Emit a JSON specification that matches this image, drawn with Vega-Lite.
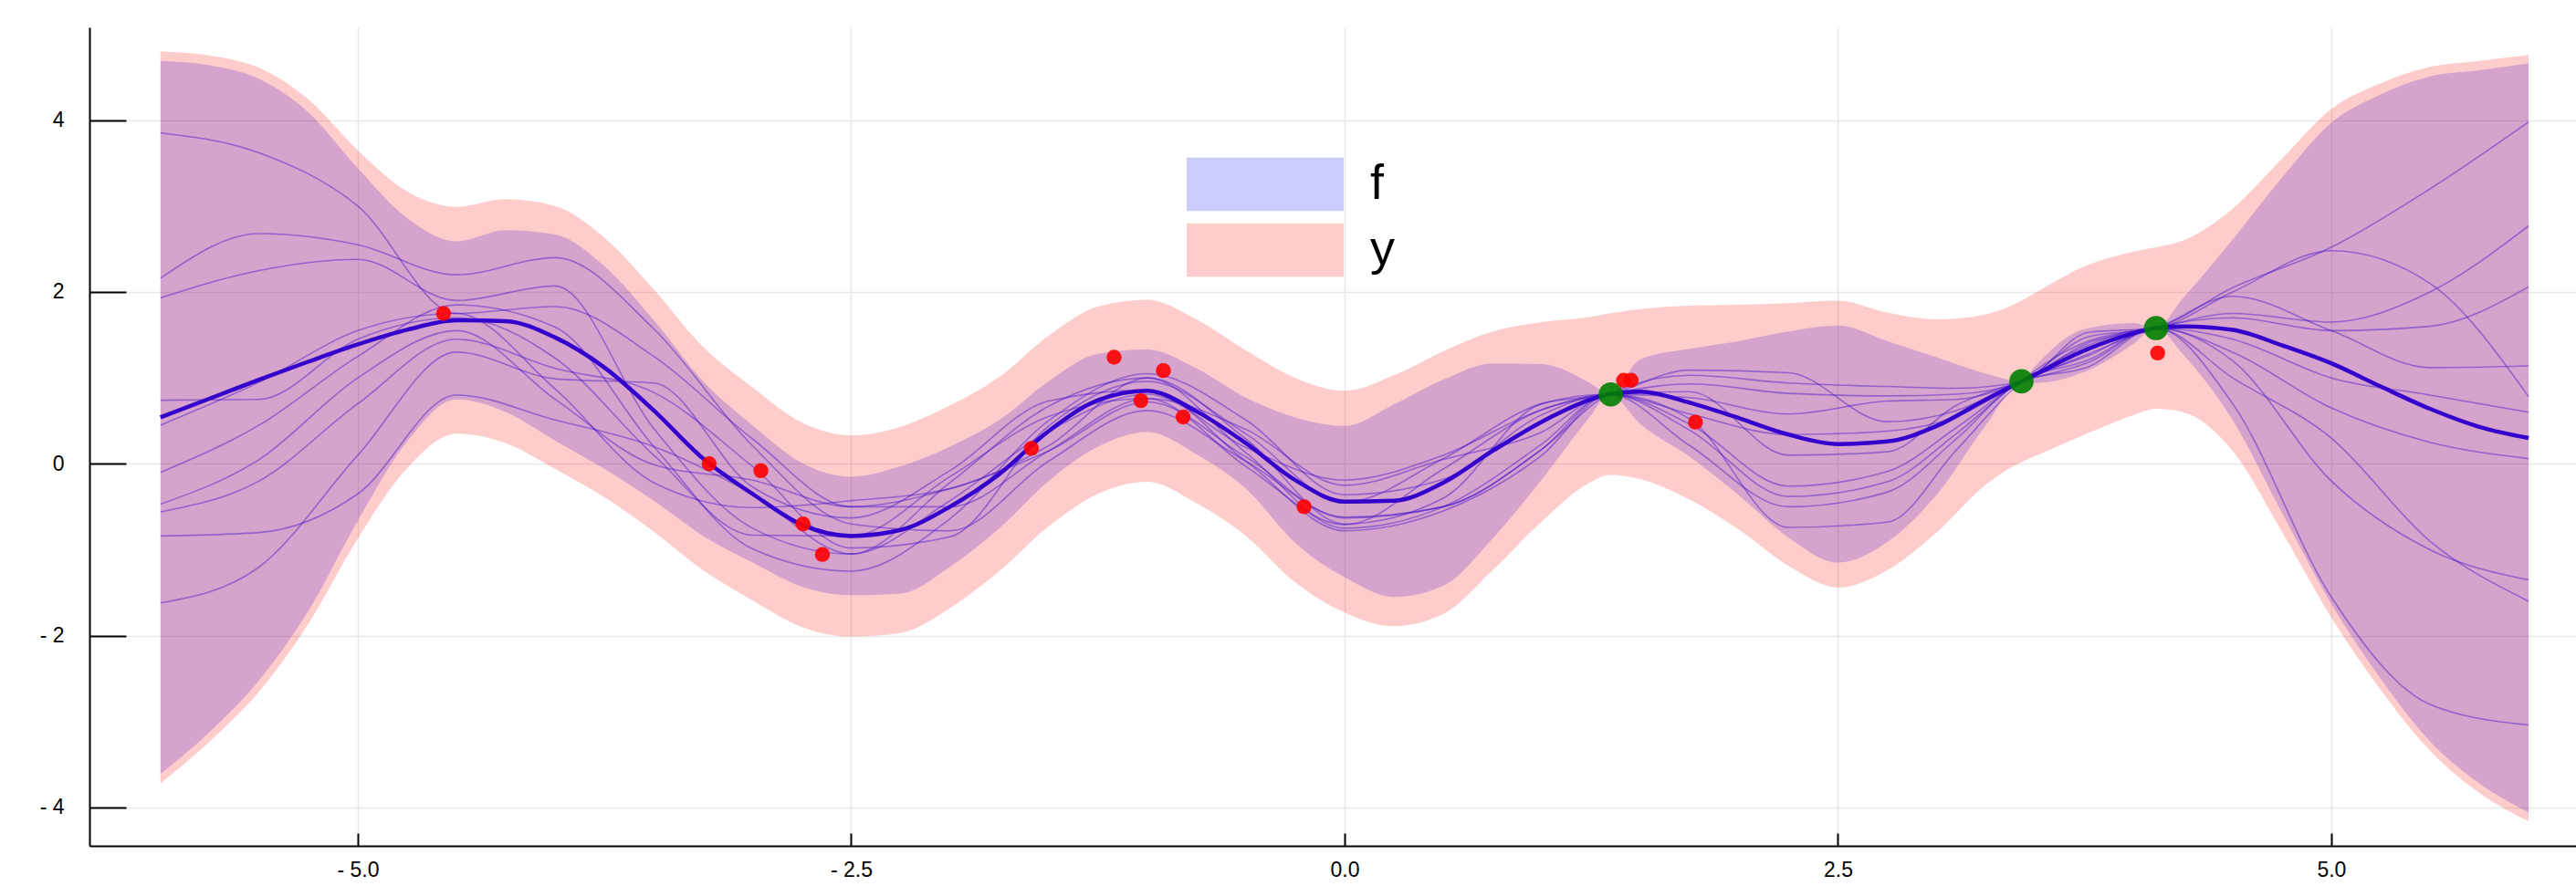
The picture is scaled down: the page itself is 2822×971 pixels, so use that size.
{
  "$schema": "https://vega.github.io/schema/vega-lite/v6.json",
  "width": 2724,
  "height": 897,
  "autosize": {"type": "none"},
  "padding": {"left": 98, "top": 30, "right": 0, "bottom": 44},
  "background": "white",
  "config": {"view": {"stroke": null}, "font": "Liberation Sans"},
  "resolve": {"scale": {"color": "independent"}, "legend": {"color": "independent"}},
  "datasets": {
    "bands": [
      {"x": -6, "m": 0.54, "flo": -3.61, "fhi": 4.69, "ylo": -3.72, "yhi": 4.80},
      {"x": -5.75, "m": 0.76, "flo": -3.12, "fhi": 4.64, "ylo": -3.23, "yhi": 4.75},
      {"x": -5.5, "m": 0.98, "flo": -2.52, "fhi": 4.48, "ylo": -2.65, "yhi": 4.61},
      {"x": -5.25, "m": 1.19, "flo": -1.71, "fhi": 4.09, "ylo": -1.86, "yhi": 4.24},
      {"x": -5, "m": 1.39, "flo": -0.66, "fhi": 3.44, "ylo": -0.87, "yhi": 3.65},
      {"x": -4.75, "m": 1.56, "flo": 0.26, "fhi": 2.86, "ylo": -0.05, "yhi": 3.17},
      {"x": -4.5, "m": 1.67, "flo": 0.75, "fhi": 2.59, "ylo": 0.35, "yhi": 2.99},
      {"x": -4.25, "m": 1.66, "flo": 0.60, "fhi": 2.72, "ylo": 0.24, "yhi": 3.08},
      {"x": -4, "m": 1.47, "flo": 0.27, "fhi": 2.67, "ylo": -0.06, "yhi": 3.00},
      {"x": -3.75, "m": 1.12, "flo": -0.06, "fhi": 2.30, "ylo": -0.39, "yhi": 2.63},
      {"x": -3.5, "m": 0.62, "flo": -0.43, "fhi": 1.67, "ylo": -0.79, "yhi": 2.03},
      {"x": -3.25, "m": 0.06, "flo": -0.84, "fhi": 0.96, "ylo": -1.24, "yhi": 1.36},
      {"x": -3, "m": -0.35, "flo": -1.15, "fhi": 0.45, "ylo": -1.59, "yhi": 0.89},
      {"x": -2.75, "m": -0.71, "flo": -1.43, "fhi": 0.01, "ylo": -1.90, "yhi": 0.48},
      {"x": -2.5, "m": -0.84, "flo": -1.53, "fhi": -0.15, "ylo": -2.01, "yhi": 0.33},
      {"x": -2.25, "m": -0.77, "flo": -1.51, "fhi": -0.03, "ylo": -1.97, "yhi": 0.43},
      {"x": -2, "m": -0.50, "flo": -1.20, "fhi": 0.20, "ylo": -1.68, "yhi": 0.68},
      {"x": -1.75, "m": -0.12, "flo": -0.75, "fhi": 0.51, "ylo": -1.25, "yhi": 1.01},
      {"x": -1.5, "m": 0.38, "flo": -0.20, "fhi": 0.96, "ylo": -0.73, "yhi": 1.49},
      {"x": -1.25, "m": 0.74, "flo": 0.20, "fhi": 1.28, "ylo": -0.35, "yhi": 1.83},
      {"x": -1, "m": 0.85, "flo": 0.37, "fhi": 1.33, "ylo": -0.21, "yhi": 1.91},
      {"x": -0.75, "m": 0.61, "flo": 0.11, "fhi": 1.11, "ylo": -0.46, "yhi": 1.68},
      {"x": -0.5, "m": 0.24, "flo": -0.29, "fhi": 0.77, "ylo": -0.84, "yhi": 1.32},
      {"x": -0.25, "m": -0.19, "flo": -0.92, "fhi": 0.54, "ylo": -1.38, "yhi": 1.00},
      {"x": 0, "m": -0.44, "flo": -1.32, "fhi": 0.44, "ylo": -1.73, "yhi": 0.85},
      {"x": 0.25, "m": -0.43, "flo": -1.55, "fhi": 0.69, "ylo": -1.89, "yhi": 1.03},
      {"x": 0.5, "m": -0.22, "flo": -1.42, "fhi": 0.98, "ylo": -1.75, "yhi": 1.31},
      {"x": 0.75, "m": 0.15, "flo": -0.87, "fhi": 1.17, "ylo": -1.24, "yhi": 1.54},
      {"x": 1, "m": 0.49, "flo": -0.18, "fhi": 1.16, "ylo": -0.67, "yhi": 1.65},
      {"x": 1.25, "m": 0.75, "flo": 0.57, "fhi": 0.93, "ylo": -0.21, "yhi": 1.71},
      {"x": 1.34, "m": 0.81, "flo": 0.81, "fhi": 0.81, "ylo": -0.13, "yhi": 1.75},
      {"x": 1.5, "m": 0.84, "flo": 0.46, "fhi": 1.22, "ylo": -0.18, "yhi": 1.80},
      {"x": 1.75, "m": 0.71, "flo": 0.08, "fhi": 1.34, "ylo": -0.42, "yhi": 1.84},
      {"x": 2, "m": 0.53, "flo": -0.37, "fhi": 1.43, "ylo": -0.77, "yhi": 1.85},
      {"x": 2.25, "m": 0.34, "flo": -0.86, "fhi": 1.54, "ylo": -1.19, "yhi": 1.87},
      {"x": 2.5, "m": 0.23, "flo": -1.15, "fhi": 1.61, "ylo": -1.44, "yhi": 1.90},
      {"x": 2.75, "m": 0.26, "flo": -0.91, "fhi": 1.43, "ylo": -1.24, "yhi": 1.76},
      {"x": 3, "m": 0.44, "flo": -0.36, "fhi": 1.24, "ylo": -0.80, "yhi": 1.68},
      {"x": 3.25, "m": 0.75, "flo": 0.45, "fhi": 1.05, "ylo": -0.24, "yhi": 1.74},
      {"x": 3.43, "m": 0.96, "flo": 0.96, "fhi": 0.96, "ylo": 0.02, "yhi": 1.90},
      {"x": 3.5, "m": 1.04, "flo": 0.94, "fhi": 1.14, "ylo": 0.09, "yhi": 1.99},
      {"x": 3.75, "m": 1.32, "flo": 1.07, "fhi": 1.57, "ylo": 0.34, "yhi": 2.30},
      {"x": 4, "m": 1.52, "flo": 1.40, "fhi": 1.64, "ylo": 0.57, "yhi": 2.47},
      {"x": 4.11, "m": 1.58, "flo": 1.58, "fhi": 1.58, "ylo": 0.64, "yhi": 2.52},
      {"x": 4.25, "m": 1.60, "flo": 1.27, "fhi": 1.93, "ylo": 0.60, "yhi": 2.60},
      {"x": 4.5, "m": 1.56, "flo": 0.51, "fhi": 2.61, "ylo": 0.15, "yhi": 2.97},
      {"x": 4.75, "m": 1.38, "flo": -0.57, "fhi": 3.33, "ylo": -0.79, "yhi": 3.55},
      {"x": 5, "m": 1.17, "flo": -1.63, "fhi": 3.97, "ylo": -1.79, "yhi": 4.13},
      {"x": 5.25, "m": 0.90, "flo": -2.50, "fhi": 4.30, "ylo": -2.63, "yhi": 4.43},
      {"x": 5.5, "m": 0.64, "flo": -3.23, "fhi": 4.51, "ylo": -3.34, "yhi": 4.62},
      {"x": 5.75, "m": 0.43, "flo": -3.72, "fhi": 4.58, "ylo": -3.83, "yhi": 4.69},
      {"x": 6, "m": 0.30, "flo": -4.06, "fhi": 4.66, "ylo": -4.16, "yhi": 4.76}
    ],
    "samples": [
      {"x": -6, "s1": 3.85, "s2": 2.16, "s3": 1.93, "s4": 0.74, "s5": 0.45, "s6": -0.10, "s7": -0.47, "s8": -0.56, "s9": -0.84, "s10": -1.62},
      {"x": -5.5, "s1": 3.62, "s2": 2.68, "s3": 2.25, "s4": 0.75, "s5": 0.95, "s6": 0.45, "s7": 0.05, "s8": -0.20, "s9": -0.80, "s10": -1.20},
      {"x": -5, "s1": 3.00, "s2": 2.55, "s3": 2.38, "s4": 1.45, "s5": 1.55, "s6": 1.25, "s7": 1.00, "s8": 0.70, "s9": -0.35, "s10": 0.10},
      {"x": -4.5, "s1": 1.75, "s2": 2.20, "s3": 1.90, "s4": 1.70, "s5": 1.75, "s6": 1.85, "s7": 1.55, "s8": 1.45, "s9": 0.80, "s10": 1.30},
      {"x": -4, "s1": 1.83, "s2": 2.40, "s3": 2.07, "s4": 1.23, "s5": 0.87, "s6": 1.59, "s7": 0.75, "s8": 1.11, "s9": 0.51, "s10": 0.99},
      {"x": -3.5, "s1": 1.25, "s2": 1.57, "s3": 0.41, "s4": 0.10, "s5": -0.22, "s6": 0.20, "s7": -0.01, "s8": 0.83, "s9": 0.20, "s10": 0.94},
      {"x": -3, "s1": 0.29, "s2": 0.21, "s3": -0.75, "s4": -0.83, "s5": -0.51, "s6": -0.99, "s7": -0.19, "s8": -0.03, "s9": -0.35, "s10": -0.27},
      {"x": -2.5, "s1": -0.50, "s2": -0.70, "s3": -1.05, "s4": -0.84, "s5": -0.43, "s6": -1.25, "s7": -0.50, "s8": -0.98, "s9": -1.05, "s10": -0.63},
      {"x": -2, "s1": -0.50, "s2": -0.78, "s3": -0.22, "s4": -0.15, "s5": -0.29, "s6": -0.64, "s7": -0.29, "s8": -0.85, "s9": -0.43, "s10": -0.08},
      {"x": -1.5, "s1": 0.15, "s2": 0.03, "s3": 0.67, "s4": 0.55, "s5": 0.21, "s6": 0.50, "s7": 0.15, "s8": 0.44, "s9": 0.38, "s10": 0.73},
      {"x": -1, "s1": 0.76, "s2": 0.62, "s3": 1.00, "s4": 0.76, "s5": 1.00, "s6": 1.05, "s7": 0.72, "s8": 0.96, "s9": 0.81, "s10": 0.86},
      {"x": -0.5, "s1": 0.40, "s2": 0.03, "s3": 0.13, "s4": -0.03, "s5": 0.29, "s6": 0.51, "s7": 0.08, "s8": 0.35, "s9": 0.19, "s10": 0.03},
      {"x": 0, "s1": -0.25, "s2": -0.62, "s3": -0.75, "s4": -0.71, "s5": -0.70, "s6": -0.36, "s7": -0.63, "s8": -0.45, "s9": -0.19, "s10": -0.78},
      {"x": 0.5, "s1": 0.05, "s2": -0.50, "s3": -0.50, "s4": -0.06, "s5": -0.40, "s6": -0.18, "s7": -0.50, "s8": 0.06, "s9": 0.10, "s10": -0.55},
      {"x": 1, "s1": 0.37, "s2": 0.17, "s3": 0.23, "s4": 0.63, "s5": 0.70, "s6": 0.57, "s7": 0.17, "s8": 0.70, "s9": 0.63, "s10": 0.10},
      {"x": 1.34, "s1": 0.81, "s2": 0.81, "s3": 0.81, "s4": 0.81, "s5": 0.81, "s6": 0.81, "s7": 0.81, "s8": 0.81, "s9": 0.81, "s10": 0.81},
      {"x": 1.75, "s1": 0.39, "s2": 1.03, "s3": 0.52, "s4": 0.93, "s5": 0.21, "s6": 0.77, "s7": 0.46, "s8": 1.09, "s9": 0.58, "s10": 0.84},
      {"x": 2.25, "s1": -0.38, "s2": 0.94, "s3": -0.74, "s4": 0.82, "s5": -0.50, "s6": 0.58, "s7": -0.26, "s8": 1.06, "s9": 0.34, "s10": 0.10},
      {"x": 2.75, "s1": -0.21, "s2": 0.90, "s3": -0.68, "s4": 0.79, "s5": -0.33, "s6": 0.73, "s7": -0.09, "s8": 0.49, "s9": 0.38, "s10": 0.14},
      {"x": 3.1, "s1": 0.35, "s2": 0.88, "s3": 0.16, "s4": 0.81, "s5": 0.29, "s6": 0.75, "s7": 0.42, "s8": 0.62, "s9": 0.55, "s10": 0.68},
      {"x": 3.43, "s1": 0.96, "s2": 0.96, "s3": 0.96, "s4": 0.96, "s5": 0.96, "s6": 0.96, "s7": 0.96, "s8": 0.96, "s9": 0.96, "s10": 0.96},
      {"x": 3.77, "s1": 1.21, "s2": 1.53, "s3": 1.43, "s4": 1.48, "s5": 1.13, "s6": 1.41, "s7": 1.26, "s8": 1.28, "s9": 1.38, "s10": 1.18},
      {"x": 4.11, "s1": 1.58, "s2": 1.58, "s3": 1.58, "s4": 1.58, "s5": 1.58, "s6": 1.58, "s7": 1.58, "s8": 1.58, "s9": 1.58, "s10": 1.58},
      {"x": 4.5, "s1": 1.20, "s2": 2.00, "s3": 1.75, "s4": 2.05, "s5": 0.70, "s6": 1.95, "s7": 1.30, "s8": 1.70, "s9": 1.00, "s10": 1.45},
      {"x": 5, "s1": -0.20, "s2": 2.48, "s3": 1.65, "s4": 2.52, "s5": -1.55, "s6": 1.55, "s7": 0.65, "s8": 1.55, "s9": 0.30, "s10": 1.00},
      {"x": 5.5, "s1": -1.00, "s2": 2.10, "s3": 2.00, "s4": 3.20, "s5": -2.80, "s6": 1.12, "s7": 0.25, "s8": 1.60, "s9": -0.90, "s10": 0.80},
      {"x": 6, "s1": -1.35, "s2": 0.78, "s3": 2.77, "s4": 3.98, "s5": -3.04, "s6": 1.14, "s7": 0.06, "s8": 2.06, "s9": -1.60, "s10": 0.60}
    ],
    "obs": [
      {"x": -4.566, "y": 1.75},
      {"x": -3.22, "y": 0.0},
      {"x": -2.958, "y": -0.08},
      {"x": -2.744, "y": -0.70},
      {"x": -2.646, "y": -1.055},
      {"x": -1.587, "y": 0.18},
      {"x": -1.168, "y": 1.24},
      {"x": -1.032, "y": 0.735},
      {"x": -0.918, "y": 1.085},
      {"x": -0.818, "y": 0.545},
      {"x": -0.205, "y": -0.50},
      {"x": 1.414, "y": 0.973},
      {"x": 1.452, "y": 0.973},
      {"x": 1.778, "y": 0.485},
      {"x": 4.12, "y": 1.29}
    ],
    "green": [
      {"x": 1.349, "y": 0.808},
      {"x": 3.43, "y": 0.96},
      {"x": 4.112, "y": 1.58}
    ]
  },
  "layer": [
    {
      "data": {"name": "bands"},
      "mark": {"type": "area", "opacity": 0.2, "interpolate": "monotone"},
      "encoding": {
        "x": {
          "field": "x", "type": "quantitative", "title": null,
          "scale": {"domain": [-6.36, 6.24], "nice": false, "zero": false},
          "axis": {
            "values": [-5, -2.5, 0, 2.5, 5],
            "labelExpr": "datum.value < 0 ? '- ' + format(-datum.value, '.1f') : format(datum.value, '.1f')",
            "grid": true, "gridColor": "#e8e8e8", "gridWidth": 1.5,
            "domainColor": "black", "domainWidth": 2,
            "tickColor": "black", "tickWidth": 2, "tickSize": -14,
            "labelPadding": 29, "labelFontSize": 23, "labelFont": "Liberation Sans", "labelColor": "black",
            "labelFlush": false
          }
        },
        "y": {
          "field": "flo", "type": "quantitative", "title": null,
          "scale": {"domain": [-4.447, 5.08], "nice": false, "zero": false},
          "axis": {
            "values": [-4, -2, 0, 2, 4],
            "labelExpr": "datum.value < 0 ? '- ' + format(-datum.value, 'd') : format(datum.value, 'd')",
            "grid": true, "gridColor": "#e8e8e8", "gridWidth": 1.5,
            "domainColor": "black", "domainWidth": 2,
            "tickColor": "black", "tickWidth": 2, "tickSize": -40,
            "labelPadding": 68, "labelAlign": "right", "labelFontSize": 23, "labelFont": "Liberation Sans", "labelColor": "black",
            "labelFlush": false
          }
        },
        "y2": {"field": "fhi"},
        "color": {
          "datum": "f",
          "scale": {"domain": ["f"], "range": ["#0000ff"]},
          "legend": {
            "orient": "none", "legendX": 1202, "legendY": 86, "title": null,
            "symbolType": "M-1,-0.339H1V0.339H-1Z", "symbolSize": 29584,
            "symbolOpacity": 0.2, "symbolStrokeWidth": 0,
            "labelFontSize": 54, "labelFont": "Liberation Sans", "labelColor": "black",
            "labelOffset": 29, "padding": 0, "labelLimit": 500
          }
        }
      }
    },
    {
      "data": {"name": "samples"},
      "transform": [{"fold": ["s1", "s2", "s3", "s4", "s5", "s6", "s7", "s8", "s9", "s10"], "as": ["s", "v"]}],
      "mark": {"type": "line", "color": "#0000ff", "strokeWidth": 1.6, "opacity": 0.4, "interpolate": "monotone"},
      "encoding": {
        "x": {"field": "x", "type": "quantitative", "title": null, "scale": {"domain": [-6.36, 6.24], "nice": false, "zero": false}},
        "y": {"field": "v", "type": "quantitative", "title": null, "scale": {"domain": [-4.447, 5.08], "nice": false, "zero": false}},
        "detail": {"field": "s"}
      }
    },
    {
      "data": {"name": "bands"},
      "mark": {"type": "line", "color": "#0000ff", "strokeWidth": 4.5, "interpolate": "monotone"},
      "encoding": {
        "x": {"field": "x", "type": "quantitative", "title": null, "scale": {"domain": [-6.36, 6.24], "nice": false, "zero": false}},
        "y": {"field": "m", "type": "quantitative", "title": null, "scale": {"domain": [-4.447, 5.08], "nice": false, "zero": false}}
      }
    },
    {
      "data": {"name": "bands"},
      "mark": {"type": "area", "opacity": 0.2, "interpolate": "monotone"},
      "encoding": {
        "x": {"field": "x", "type": "quantitative", "title": null, "scale": {"domain": [-6.36, 6.24], "nice": false, "zero": false}},
        "y": {"field": "ylo", "type": "quantitative", "title": null, "scale": {"domain": [-4.447, 5.08], "nice": false, "zero": false}},
        "y2": {"field": "yhi"},
        "color": {
          "datum": "y",
          "scale": {"domain": ["y"], "range": ["#ff0000"]},
          "legend": {
            "orient": "none", "legendX": 1202, "legendY": 158, "title": null,
            "symbolType": "M-1,-0.339H1V0.339H-1Z", "symbolSize": 29584,
            "symbolOpacity": 0.2, "symbolStrokeWidth": 0,
            "labelFontSize": 54, "labelFont": "Liberation Sans", "labelColor": "black",
            "labelOffset": 29, "padding": 0, "labelLimit": 500
          }
        }
      }
    },
    {
      "data": {"name": "green"},
      "mark": {"type": "circle", "color": "#008000", "opacity": 0.9, "size": 707},
      "encoding": {
        "x": {"field": "x", "type": "quantitative", "title": null, "scale": {"domain": [-6.36, 6.24], "nice": false, "zero": false}},
        "y": {"field": "y", "type": "quantitative", "title": null, "scale": {"domain": [-4.447, 5.08], "nice": false, "zero": false}}
      }
    },
    {
      "data": {"name": "obs"},
      "mark": {"type": "circle", "color": "#ff0000", "opacity": 0.9, "size": 270},
      "encoding": {
        "x": {"field": "x", "type": "quantitative", "title": null, "scale": {"domain": [-6.36, 6.24], "nice": false, "zero": false}},
        "y": {"field": "y", "type": "quantitative", "title": null, "scale": {"domain": [-4.447, 5.08], "nice": false, "zero": false}}
      }
    }
  ]
}
